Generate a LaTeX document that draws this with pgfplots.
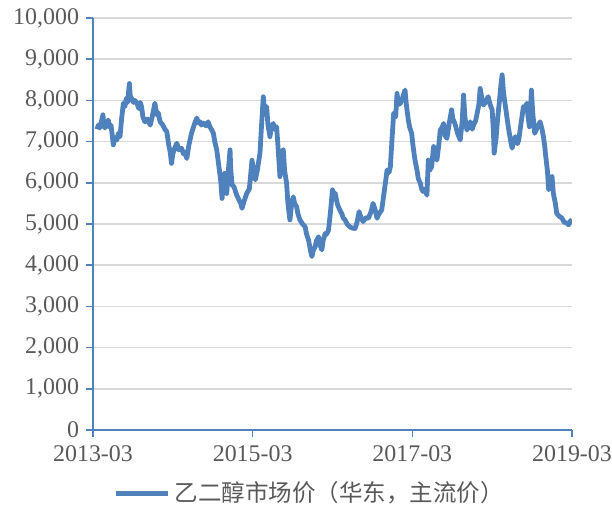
\documentclass[border=0pt]{standalone}
\usepackage{pgfplots}
\pgfplotsset{compat=1.18}
\usepackage{fontspec}
\setmainfont{Liberation Serif}
\newfontfamily\cjk{Noto Sans CJK SC}
\definecolor{line}{RGB}{79,129,189}
\definecolor{axisc}{RGB}{79,129,189}
\definecolor{gridc}{RGB}{217,217,217}
\definecolor{labc}{RGB}{89,89,89}

\pgfplotstableread{
m price
0.6 7300
0.8 7400
1.0 7330
1.2 7450
1.5 7650
1.6 7400
1.8 7330
2.0 7450
2.3 7520
2.5 7350
2.7 7400
2.9 7150
3.05 6920
3.3 7100
3.6 7040
3.8 7200
4.06 7120
4.3 7550
4.56 7930
4.8 7850
5.0 8050
5.2 7950
5.47 8410
5.6 8100
5.8 8050
6.1 7950
6.3 8000
6.6 7930
6.9 7800
7.1 7950
7.3 7850
7.5 7600
7.8 7480
8.2 7550
8.6 7400
8.9 7600
9.3 7930
9.6 7650
9.8 7700
10.1 7480
10.5 7400
10.8 7300
11.1 7240
11.4 6900
11.6 6750
11.8 6470
12.0 6700
12.3 6850
12.6 6960
12.9 6800
13.3 6840
13.6 6700
13.8 6750
14.1 6590
14.4 6900
14.8 7200
15.1 7350
15.3 7450
15.6 7570
15.9 7450
16.1 7480
16.3 7400
16.6 7450
17.0 7380
17.3 7480
17.6 7350
17.8 7300
18.1 7200
18.3 7000
18.6 6800
18.8 6550
19.0 6300
19.2 6050
19.4 5620
19.6 6000
19.8 6230
20.0 5900
20.1 5740
20.3 6200
20.6 6800
20.7 6350
20.9 5950
21.2 5900
21.6 5700
21.9 5600
22.2 5500
22.4 5380
22.7 5550
23.1 5740
23.5 5850
23.9 6550
24.1 6350
24.4 6070
24.7 6300
25.1 6720
25.3 7300
25.6 8090
25.8 7700
26.1 7850
26.3 7400
26.6 7120
26.8 7350
27.1 7440
27.3 7300
27.6 7360
27.8 6900
28.1 6150
28.3 6500
28.6 6800
28.8 6300
29.1 5990
29.3 5500
29.6 5100
29.8 5400
30.1 5660
30.3 5500
30.6 5420
30.8 5250
31.1 5100
31.5 5000
31.9 4930
32.1 4750
32.4 4610
32.7 4350
32.9 4210
33.1 4350
33.4 4450
33.6 4600
33.9 4690
34.1 4500
34.4 4370
34.6 4600
34.9 4770
35.1 4750
35.4 4850
35.7 5300
36.0 5830
36.2 5650
36.4 5750
36.6 5580
36.8 5450
37.1 5340
37.4 5250
37.6 5150
37.9 5100
38.2 5000
38.6 4930
39.0 4900
39.4 4890
39.7 5050
40.0 5300
40.3 5150
40.6 5060
41.0 5150
41.4 5140
41.8 5300
42.1 5500
42.4 5350
42.7 5140
43.0 5250
43.4 5340
43.7 5700
44.0 6050
44.2 6310
44.5 6250
44.7 6390
45.0 7200
45.2 7690
45.5 7600
45.7 8170
45.9 7900
46.2 7930
46.5 8050
46.9 8250
47.1 7900
47.4 7520
47.6 7350
47.9 7200
48.1 6900
48.4 6550
48.7 6310
48.9 6100
49.2 5990
49.4 5850
49.6 5790
49.9 5850
50.2 5700
50.4 6550
50.6 6300
50.9 6390
51.2 6880
51.4 6700
51.7 6550
52.0 6950
52.2 7280
52.5 7350
52.7 7440
52.9 7150
53.2 7080
53.5 7400
53.9 7770
54.1 7550
54.4 7440
54.8 7200
55.2 7040
55.5 7500
55.7 8130
55.9 7600
56.2 7280
56.5 7400
56.7 7480
57.0 7300
57.2 7400
57.5 7500
57.7 7650
58.0 7900
58.2 8290
58.5 8000
58.7 7890
59.0 7950
59.4 8090
59.7 7900
60.0 7770
60.2 7200
60.3 6720
60.6 7100
60.8 7520
61.1 8000
61.3 8350
61.5 8620
61.7 8200
62.0 7850
62.3 7500
62.5 7280
62.8 7000
63.0 6840
63.3 7050
63.5 7120
63.8 6950
64.0 7040
64.3 7400
64.7 7850
65.0 7800
65.2 7930
65.4 7600
65.6 7360
65.8 7900
65.9 8250
66.1 7700
66.4 7200
66.8 7350
67.2 7480
67.5 7300
67.7 7120
67.9 6900
68.0 6720
68.3 6300
68.5 5830
68.8 6000
69.0 6150
69.2 5740
69.5 5500
69.7 5260
70.0 5200
70.5 5140
70.8 5050
71.2 5020
71.5 4980
71.8 5080
72.0 5100
}\pricedata

\begin{document}
\begin{tikzpicture}
\useasboundingbox (0,0) rectangle (306bp,256bp);
\begin{axis}[
  at={(46.5bp,41bp)}, anchor=south west,
  scale only axis,
  width=239.5bp, height=206bp,
  xmin=0, xmax=72, ymin=0, ymax=10000,
  axis x line*=bottom, axis y line*=left,
  axis line style={axisc, line width=0.8pt},
  xtick={0,24,48,72},
  xticklabels={2013-03,2015-03,2017-03,2019-03},
  ytick={0,1000,...,10000},
  ymajorgrids,
  grid style={gridc, line width=0.8pt},
  tick style={axisc, line width=0.8pt},
  tick align=outside,
  major tick length=3.5bp,
  tick label style={font=\fontsize{12}{14}\selectfont, text=labc},
  /pgf/number format/assume math mode=true,
  /pgf/number format/1000 sep={,},
  scaled y ticks=false,
  xticklabel style={yshift=-1bp},
  legend style={at={(0.455,-0.105)}, anchor=north, draw=none, fill=none,
    font=\cjk\fontsize{11.8}{14}\selectfont, text=labc},
  legend cell align=left,
  legend image code/.code={\draw[line, line width=2.4bp] (0bp,0bp) -- (26bp,0bp);},
]
\addplot[line, line width=2.4bp, line join=round] table[x=m, y=price] {\pricedata};
\addlegendentry{乙二醇市场价（华东，主流价）}
\end{axis}
\end{tikzpicture}
\end{document}
